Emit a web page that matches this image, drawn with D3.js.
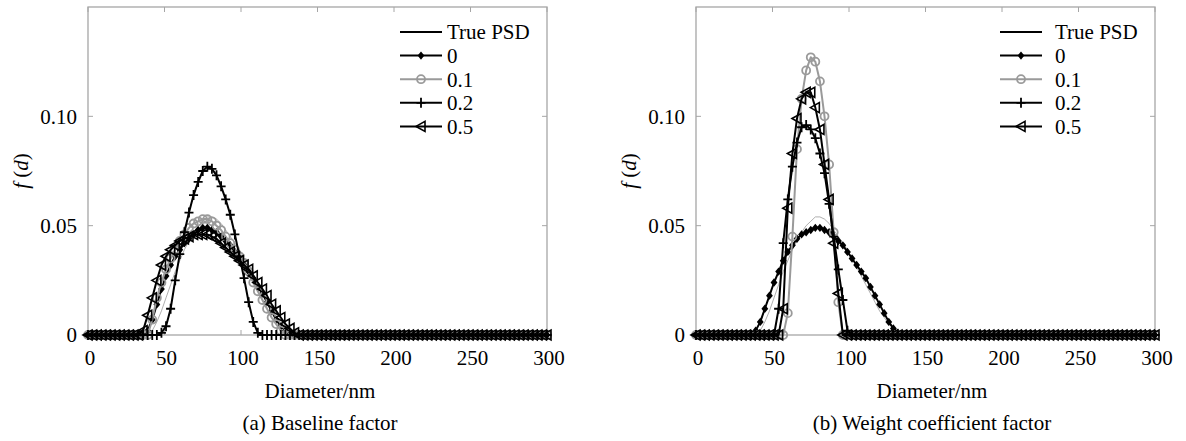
<!DOCTYPE html>
<html>
<head>
<meta charset="utf-8">
<script src="https://cdn.jsdelivr.net/npm/d3@7"></script>
<style>
    body { margin: 0; background: #fff; }
</style>
</head>
<body>
<svg id="chart" width="1186" height="441" font-family="'Liberation Serif', 'Times New Roman', 'DejaVu Serif', serif" font-size="21"></svg>
<script>
// diameter grid (nm) shared by every series
const diameters = d3.range(0, 301, 3);
const xTicks = [0, 50, 100, 150, 200, 250, 300];
const yTicks = [0, 0.05, 0.10];
const legendLabels = ["True PSD", "0", "0.1", "0.2", "0.5"];
const captions = ["(a) Baseline factor", "(b) Weight coefficient factor"];

// values, each starts at the given diameter; zero elsewhere
const truePsd = [39, [0, 0.002, 0.006, 0.011, 0.017, 0.023, 0.029, 0.034, 0.039, 0.043, 0.047, 0.050, 0.052, 0.054,
    0.054, 0.053, 0.051, 0.048, 0.045, 0.042, 0.039, 0.035, 0.031, 0.027, 0.023, 0.019, 0.015, 0.011, 0.008,
    0.005, 0.003, 0.0015, 0.0005, 0]];

// (a) baseline factor
const base0 = [36, [0, 0.002, 0.007, 0.014, 0.021, 0.027, 0.032, 0.036, 0.039, 0.042, 0.044, 0.046, 0.048, 0.049,
    0.049, 0.048, 0.047, 0.045, 0.043, 0.041, 0.038, 0.035, 0.032, 0.029, 0.026, 0.022, 0.019, 0.015, 0.011,
    0.007, 0.004, 0.002, 0]];
const base01 = [39, [0, 0.007, 0.017, 0.024, 0.030, 0.035, 0.039, 0.043, 0.046, 0.049, 0.051, 0.052, 0.053, 0.053,
    0.052, 0.050, 0.048, 0.045, 0.042, 0.039, 0.036, 0.033, 0.029, 0.024, 0.020, 0.016, 0.012, 0.008, 0.005,
    0.002, 0]];
const base02 = [45, [0, 0.001, 0.004, 0.012, 0.025, 0.037, 0.047, 0.056, 0.064, 0.070, 0.075, 0.077, 0.076, 0.073,
    0.068, 0.062, 0.055, 0.046, 0.036, 0.026, 0.015, 0.006, 0.001, 0]];
const base05 = [33, [0, 0.002, 0.009, 0.017, 0.025, 0.032, 0.036, 0.039, 0.041, 0.043, 0.044, 0.045, 0.046, 0.046,
    0.046, 0.046, 0.045, 0.044, 0.042, 0.040, 0.038, 0.036, 0.034, 0.032, 0.030, 0.027, 0.024, 0.021, 0.018,
    0.014, 0.011, 0.008, 0.005, 0.003, 0.001, 0]];

// (b) weight coefficient factor
const weight0 = [36, [0, 0.002, 0.006, 0.012, 0.018, 0.024, 0.029, 0.034, 0.038, 0.041, 0.044, 0.046, 0.047, 0.048,
    0.049, 0.049, 0.048, 0.047, 0.045, 0.043, 0.041, 0.038, 0.035, 0.032, 0.029, 0.026, 0.022, 0.018, 0.014,
    0.010, 0.006, 0.003, 0.001, 0]];
const weight01 = [57, [0, 0.010, 0.045, 0.085, 0.108, 0.121, 0.127, 0.125, 0.116, 0.100, 0.078, 0.047, 0.015, 0]];
const weight02 = [51, [0, 0.012, 0.042, 0.062, 0.077, 0.088, 0.095, 0.096, 0.094, 0.090, 0.083, 0.074, 0.060, 0.045,
    0.030, 0.016, 0.002, 0]];
const weight05 = [54, [0, 0.012, 0.058, 0.083, 0.099, 0.108, 0.111, 0.111, 0.104, 0.094, 0.078, 0.062, 0.042, 0.019, 0]];

function onGrid([from, values]) {
    const start = diameters.indexOf(from);
    return diameters.map((d, i) => (i >= start && i < start + values.length) ? values[i - start] : 0);
}

const styles = [
    {color: "#9a9a9a", width: 0.8, marker: null, legendColor: "#000"},
    {color: "#000", width: 2, marker: "diamond"},
    {color: "#9a9a9a", width: 2, marker: "circle"},
    {color: "#000", width: 2, marker: "plus"},
    {color: "#000", width: 2, marker: "triangle"}
];

const panels = [
    {left: 88, right: 547, center: 320, legendX: 400, textX: 447, caption: captions[0],
        series: [truePsd, base0, base01, base02, base05]},
    {left: 696, right: 1155, center: 932, legendX: 1000, textX: 1055, caption: captions[1],
        series: [truePsd, weight0, weight01, weight02, weight05]}
];

const plotTop = 7, plotBottom = 335;
const svg = d3.select("#chart");

function drawMarker(g, kind, color) {
    if (kind === "diamond") {
        g.append("path").attr("d", "M0,-4.2L3.4,0L0,4.2L-3.4,0Z").attr("fill", color);
    } else if (kind === "circle") {
        g.append("circle").attr("r", 4).attr("fill", "none")
            .attr("stroke", color).attr("stroke-width", 1.8);
    } else if (kind === "plus") {
        g.append("path").attr("d", "M-4.5,0H4.5M0,-5V5").attr("stroke", color).attr("stroke-width", 1.8);
    } else if (kind === "triangle") {
        g.append("path").attr("d", "M-5,0L4,-5L4,5Z").attr("fill", "none")
            .attr("stroke", color).attr("stroke-width", 1.6);
    }
}

panels.forEach(p => {
    const x = d3.scaleLinear().domain([0, 300]).range([p.left, p.right]);
    const y = d3.scaleLinear().domain([0, 0.15]).range([plotBottom, plotTop]);
    const g = svg.append("g");

    // box with inward ticks on all four sides
    const axisColor = "#a6a6a6";
    g.append("rect")
        .attr("x", p.left).attr("y", plotTop)
        .attr("width", p.right - p.left).attr("height", plotBottom - plotTop)
        .attr("fill", "none").attr("stroke", axisColor).attr("stroke-width", 1.3);

    xTicks.forEach(t => {
        g.append("line").attr("x1", x(t)).attr("x2", x(t)).attr("y1", plotBottom).attr("y2", plotBottom - 5)
            .attr("stroke", axisColor);
        g.append("line").attr("x1", x(t)).attr("x2", x(t)).attr("y1", plotTop).attr("y2", plotTop + 5)
            .attr("stroke", axisColor);
        g.append("text").attr("x", x(t) + 2).attr("y", 365)
            .attr("text-anchor", "middle").text(t);
    });
    yTicks.forEach(t => {
        g.append("line").attr("x1", p.left).attr("x2", p.left + 5).attr("y1", y(t)).attr("y2", y(t))
            .attr("stroke", axisColor);
        g.append("line").attr("x1", p.right).attr("x2", p.right - 5).attr("y1", y(t)).attr("y2", y(t))
            .attr("stroke", axisColor);
        g.append("text").attr("x", p.left - 11).attr("y", y(t)).attr("dy", "0.35em")
            .attr("text-anchor", "end").text(t === 0 ? "0" : d3.format(".2f")(t));
    });

    const yLabel = g.append("text")
        .attr("transform", `translate(${p.left - 60},${(plotTop + plotBottom) / 2}) rotate(-90)`)
        .attr("text-anchor", "middle");
    yLabel.append("tspan").attr("font-style", "italic").text("f");
    yLabel.append("tspan").text(" (");
    yLabel.append("tspan").attr("font-style", "italic").text("d");
    yLabel.append("tspan").text(")");

    g.append("text").attr("x", p.center).attr("y", 398).attr("text-anchor", "middle").text("Diameter/nm");
    g.append("text").attr("x", p.center).attr("y", 430).attr("text-anchor", "middle").text(p.caption);

    // curves
    const line = d3.line().x(d => x(d.x)).y(d => y(d.y));
    p.series.forEach((s, i) => {
        const st = styles[i];
        const data = onGrid(s).map((v, k) => ({x: diameters[k], y: v}));
        g.append("path").datum(data)
            .attr("d", line).attr("fill", "none")
            .attr("stroke", st.color).attr("stroke-width", st.width)
            .attr("stroke-linejoin", "round");
        if (st.marker) {
            g.append("g").selectAll("g")
                .data(data)
                .enter()
                .append("g")
                .attr("transform", d => `translate(${x(d.x)},${y(d.y)})`)
                .each(function () { drawMarker(d3.select(this), st.marker, st.color); });
        }
    });

    // legend
    legendLabels.forEach((label, i) => {
        const st = styles[i];
        const ly = 32 + i * 23.6;
        const color = st.legendColor || st.color;
        g.append("line").attr("x1", p.legendX).attr("x2", p.legendX + 42)
            .attr("y1", ly).attr("y2", ly)
            .attr("stroke", color).attr("stroke-width", 2);
        if (st.marker) {
            const m = g.append("g").attr("transform", `translate(${p.legendX + 21},${ly})`);
            drawMarker(m, st.marker, color);
        }
        g.append("text").attr("x", p.textX).attr("y", ly).attr("dy", "0.35em").text(label);
    });
});
</script>
</body>
</html>
